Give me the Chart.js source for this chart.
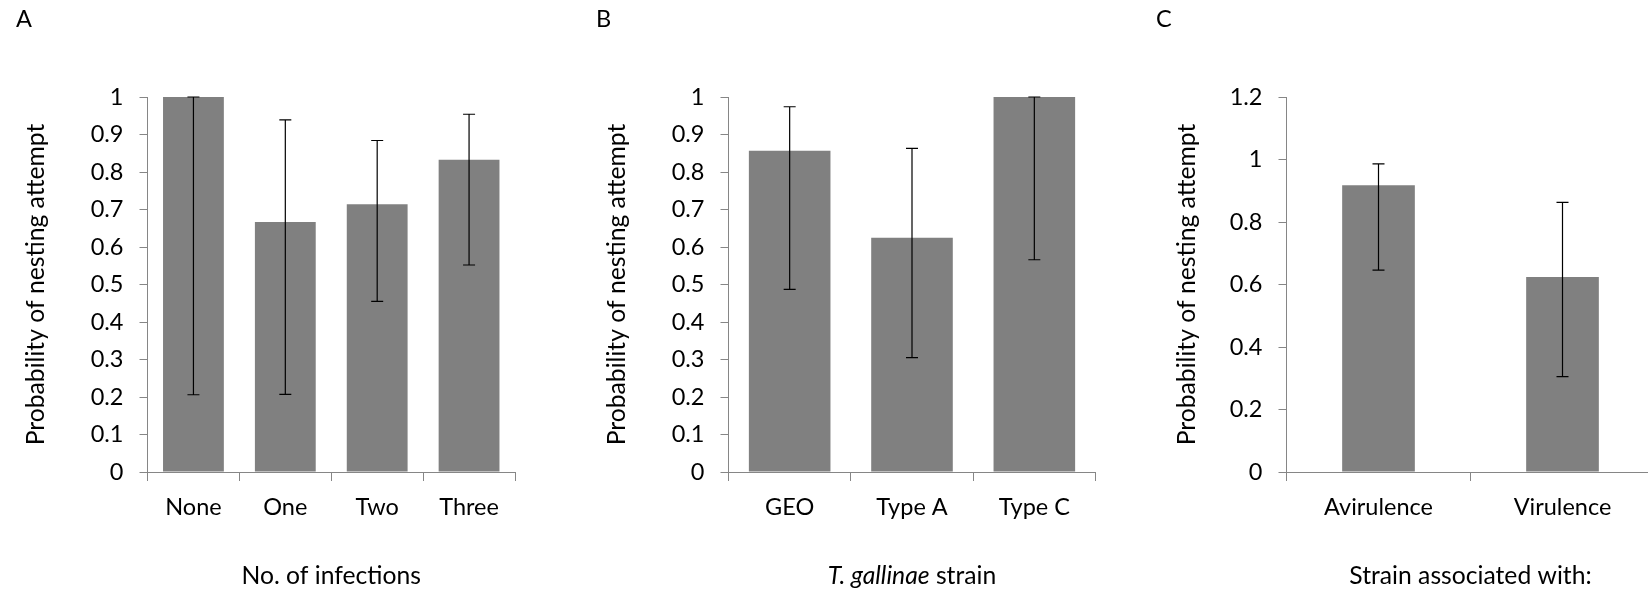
<!DOCTYPE html>
<html><head><meta charset="utf-8">
<script src="https://cdn.jsdelivr.net/npm/chart.js@4.4.1/dist/chart.umd.min.js"></script>
<style>
html,body{margin:0;padding:0;background:#fff;overflow:hidden;}
#wrap{position:relative;width:1648px;height:590px;overflow:hidden;font-family:Lato,sans-serif;color:#000;}
canvas{position:absolute;top:0;}
.lbl{position:absolute;font-size:23.5px;line-height:23.5px;white-space:nowrap;}
</style></head><body>
<div id="wrap">
<canvas id="cA" width="560" height="590" style="left:0px"></canvas>
<canvas id="cB" width="560" height="590" style="left:560px"></canvas>
<canvas id="cC" width="560" height="590" style="left:1120px"></canvas>
<div class="lbl" style="left:16px;top:6.8px">A</div>
<div class="lbl" style="left:596px;top:6.8px">B</div>
<div class="lbl" style="left:1156px;top:6.8px">C</div>
</div>
<script>
// ---- data ----
const categoriesA = ['None', 'One', 'Two', 'Three'];
const valuesA = [1.0, 0.667, 0.714, 0.833];
const errLowA = [0.206, 0.207, 0.455, 0.552];
const errHighA = [1.0, 0.939, 0.884, 0.954];
const yTicksA = ['0', '0.1', '0.2', '0.3', '0.4', '0.5', '0.6', '0.7', '0.8', '0.9', '1'];

const categoriesB = ['GEO', 'Type A', 'Type C'];
const valuesB = [0.857, 0.625, 1.0];
const errLowB = [0.487, 0.305, 0.566];
const errHighB = [0.974, 0.863, 1.0];
const yTicksB = ['0', '0.1', '0.2', '0.3', '0.4', '0.5', '0.6', '0.7', '0.8', '0.9', '1'];

const categoriesC = ['Avirulence', 'Virulence'];
const valuesC = [0.918, 0.624];
const errLowC = [0.646, 0.305];
const errHighC = [0.986, 0.863];
const yTicksC = ['0', '0.2', '0.4', '0.6', '0.8', '1', '1.2'];

const yTitle = 'Probability of nesting attempt';
const xTitleA = 'No. of infections';
const xTitleB = 'T. gallinae strain';
const xTitleC = 'Strain associated with:';

const TICK_FONT = {family: 'Lato', size: 23.5};
const YTITLE_FONT = {family: 'Lato', size: 24.7};
const XTITLE_FONT = {family: 'Lato', size: 24.7, lineHeight: 1.1};

function errorBarPlugin(low, high) {
  return {
    id: 'errorBars',
    afterDatasetsDraw(chart) {
      const ctx = chart.ctx;
      const ys = chart.scales.y;
      const meta = chart.getDatasetMeta(0);
      ctx.save();
      ctx.strokeStyle = '#000';
      ctx.lineWidth = 1.2;
      meta.data.forEach((bar, i) => {
        const x = bar.x;
        const yl = ys.getPixelForValue(low[i]);
        const yh = ys.getPixelForValue(high[i]);
        ctx.beginPath();
        ctx.moveTo(x, yl); ctx.lineTo(x, yh);
        ctx.moveTo(x - 6, yl); ctx.lineTo(x + 6, yl);
        ctx.moveTo(x - 6, yh); ctx.lineTo(x + 6, yh);
        ctx.stroke();
      });
      ctx.restore();
    }
  };
}

// Italic prefix for the B x-axis title ("T. gallinae" in italics)
function italicTitlePlugin(italicPart, restPart) {
  return {
    id: 'italicXTitle',
    afterDraw(chart) {
      const xs = chart.scales.x;
      const ctx = chart.ctx;
      const size = XTITLE_FONT.size;
      const lh = size * XTITLE_FONT.lineHeight;
      const fi = 'italic ' + size + 'px Lato';
      const fn = size + 'px Lato';
      ctx.save();
      ctx.font = fi; const wi = ctx.measureText(italicPart).width;
      ctx.font = fn; const wr = ctx.measureText(restPart).width;
      const x0 = (xs.left + xs.right) / 2 - (wi + wr) / 2;
      const y = xs.bottom - lh / 2;
      ctx.fillStyle = '#000';
      ctx.textBaseline = 'middle';
      ctx.textAlign = 'left';
      ctx.font = fi; ctx.fillText(italicPart, x0, y);
      ctx.font = fn; ctx.fillText(restPart, x0 + wi, y);
      ctx.restore();
    }
  };
}

function makeChart(id, cats, vals, lo, hi, yMax, step, yTicks, xTitle, cfg, extraPlugins) {
  return new Chart(document.getElementById(id), {
    type: 'bar',
    data: {
      labels: cats,
      datasets: [{
        data: vals,
        backgroundColor: '#808080',
        borderWidth: 0,
        categoryPercentage: 1,
        barPercentage: cfg.barPct
      }]
    },
    options: {
      responsive: false,
      animation: false,
      events: [],
      layout: {padding: {left: 0, right: cfg.padRight, top: 97, bottom: 0}},
      plugins: {legend: {display: false}, tooltip: {enabled: false}},
      scales: {
        x: {
          ticks: {padding: 12, color: '#000', font: TICK_FONT, maxRotation: 0, autoSkip: false},
          grid: {display: true, offset: true, drawOnChartArea: false, drawTicks: true, tickLength: 9, color: '#868686', lineWidth: 1},
          border: {display: true, color: '#868686', width: 1},
          title: {display: xTitle !== null, text: xTitle || '', color: '#000', font: XTITLE_FONT, padding: {top: 0, bottom: 0}},
          afterFit: s => { s.height = 118; }
        },
        y: {
          min: 0, max: yMax,
          ticks: {stepSize: step, padding: 16, color: '#000', font: TICK_FONT, callback: (v, i) => yTicks[i]},
          grid: {display: true, drawOnChartArea: false, drawTicks: true, tickLength: 8, color: '#868686', lineWidth: 1},
          border: {display: true, color: '#868686', width: 1},
          title: {display: true, text: yTitle, color: '#000', font: YTITLE_FONT, padding: {top: cfg.titlePad, bottom: 0}},
          afterFit: s => { s.width = cfg.yWidth; }
        }
      }
    },
    plugins: [errorBarPlugin(lo, hi)].concat(extraPlugins || [])
  });
}

makeChart('cA', categoriesA, valuesA, errLowA, errHighA, 1, 0.1, yTicksA, xTitleA,
  {yWidth: 147.5, padRight: 45, titlePad: 20.8, barPct: 0.662});
makeChart('cB', categoriesB, valuesB, errLowB, errHighB, 1, 0.1, yTicksB, null,
  {yWidth: 168.5, padRight: 24.5, titlePad: 42, barPct: 0.667},
  [italicTitlePlugin('T. gallinae', ' strain')]);
makeChart('cC', categoriesC, valuesC, errLowC, errHighC, 1.2, 0.2, yTicksC, xTitleC,
  {yWidth: 166.5, padRight: 25.5, titlePad: 52.5, barPct: 0.395});
</script>
</body></html>
